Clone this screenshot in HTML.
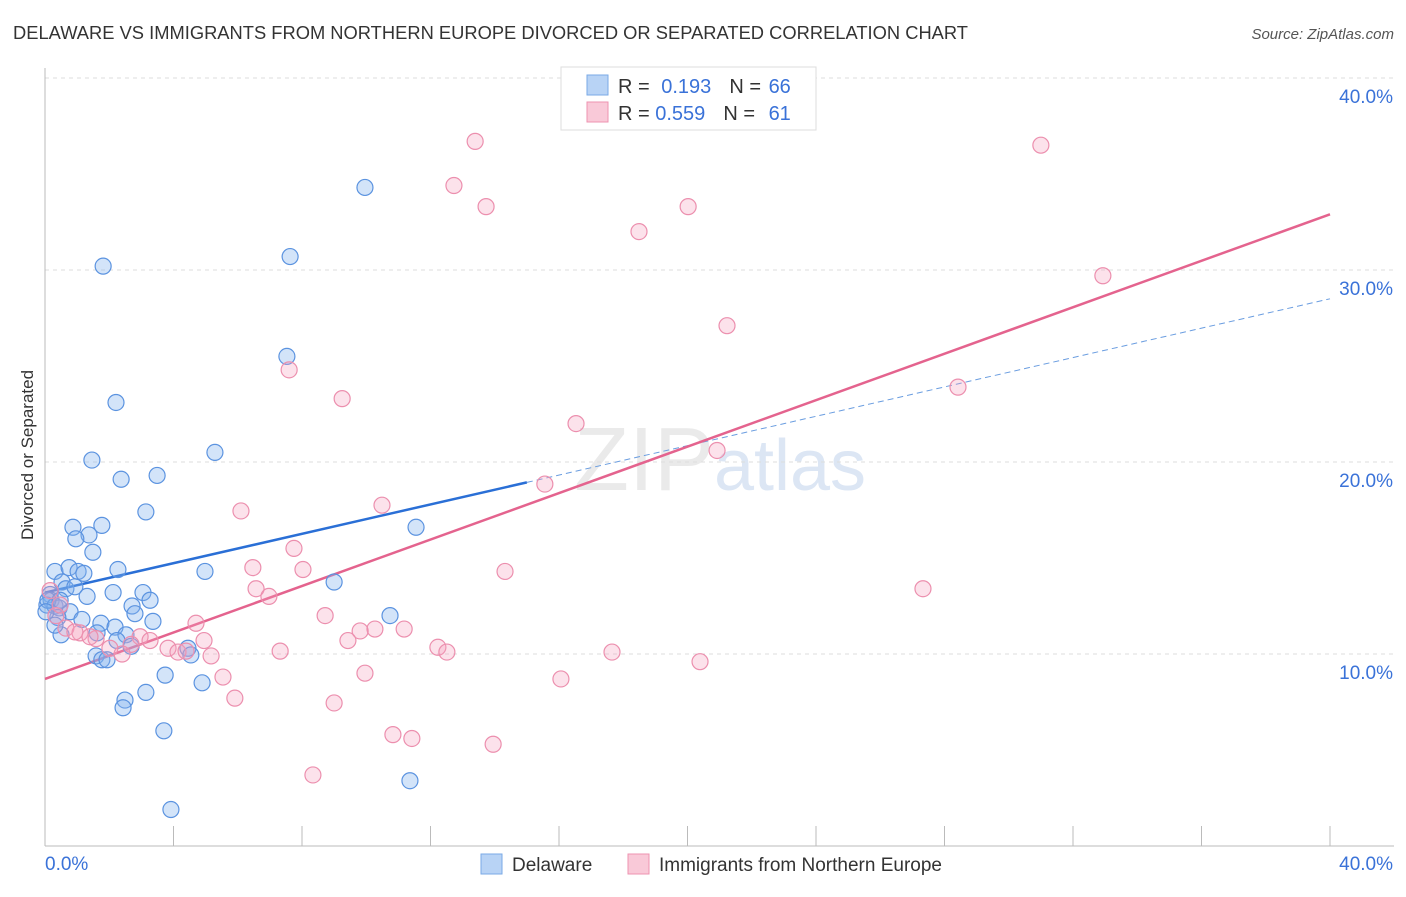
<!DOCTYPE html>
<html><head><meta charset="utf-8"><style>
body{margin:0;background:#fff;font-family:"Liberation Sans",sans-serif;}
svg text{font-family:"Liberation Sans",sans-serif;}
</style></head><body>
<svg id="chart" width="1406" height="892" viewBox="0 0 1406 892">
<text x="13" y="39" font-size="18" fill="#333" textLength="955" lengthAdjust="spacingAndGlyphs">DELAWARE VS IMMIGRANTS FROM NORTHERN EUROPE DIVORCED OR SEPARATED CORRELATION CHART</text>
<text x="1394" y="39" font-size="15" fill="#555" text-anchor="end" font-style="italic">Source: ZipAtlas.com</text>
<text x="720" y="490" font-size="90" fill="#ddd" text-anchor="middle" font-family="Liberation Serif" opacity="0.6">ZIP<tspan fill="#c5d6ee" font-family="Liberation Sans" font-size="72">atlas</tspan></text>
<text transform="translate(33,455) rotate(-90)" font-size="17" fill="#333" text-anchor="middle">Divorced or Separated</text>
<g id="grid"></g><g id="axes"></g><g id="lines"></g><g id="pts"></g>
<g>
<rect x="561" y="67" width="255" height="63" fill="#fff" stroke="#ddd"/>
<rect x="587" y="75" width="21" height="20" fill="#b8d3f5" stroke="#7aa9e6"/>
<rect x="587" y="102" width="21" height="20" fill="#f9c9d8" stroke="#ee93b0"/>
<text x="618" y="93" font-size="20" fill="#333">R = <tspan fill="#3a72d8" dx="6">0.193</tspan><tspan dx="18" fill="#333">N = </tspan><tspan fill="#3a72d8" dx="2">66</tspan></text>
<text x="618" y="120" font-size="20" fill="#333">R = <tspan fill="#3a72d8">0.559</tspan><tspan dx="18" fill="#333">N = </tspan><tspan fill="#3a72d8" dx="8">61</tspan></text>
</g>
<g>
<rect x="481" y="854" width="21" height="20" fill="#b8d3f5" stroke="#7aa9e6"/>
<text x="512" y="871" font-size="19" fill="#333">Delaware</text>
<rect x="628" y="854" width="21" height="20" fill="#f9c9d8" stroke="#ee93b0"/>
<text x="659" y="871" font-size="19" fill="#333">Immigrants from Northern Europe</text>
</g>
</svg>
<script>
const blueX=[9.96,1.81,7.63,7.53,2.21,5.29,1.46,2.37,3.49,3.14,0.87,1.77,1.37,0.96,1.49,11.55,0.31,0.75,1.03,1.21,2.27,4.98,0.53,0.65,0.93,9.0,0.16,1.31,2.12,3.05,3.27,0.19,0.06,0.31,0.44,0.78,2.71,2.8,10.74,1.15,1.74,2.18,3.36,0.4,0.5,1.62,2.52,2.24,2.68,4.45,4.54,1.59,1.77,1.93,3.74,4.89,2.49,3.14,2.43,3.7,3.92,11.36,0.09,0.31,0.03,0.47];
const blueY=[34.3,30.2,30.7,25.5,23.1,20.5,20.1,19.1,19.3,17.4,16.6,16.7,16.2,16.0,15.3,16.6,14.3,14.5,14.3,14.2,14.4,14.3,13.75,13.4,13.5,13.75,13.1,13.0,13.2,13.2,12.8,12.8,12.55,12.5,12.4,12.2,12.5,12.1,12.0,11.8,11.6,11.4,11.7,11.9,11.0,11.1,11.0,10.7,10.4,10.3,9.95,9.9,9.7,9.7,8.9,8.5,7.6,8.0,7.2,6.0,1.9,3.4,12.8,11.5,12.2,12.8];
const pinkX=[13.39,31.0,12.73,13.73,20.02,18.49,32.93,21.23,7.6,9.25,28.42,16.53,20.92,15.56,6.1,10.49,7.75,6.47,8.03,14.32,6.57,6.97,27.33,8.72,10.27,9.81,11.18,4.7,0.34,0.65,1.09,1.59,2.96,3.27,2.68,4.95,9.43,3.83,4.14,4.39,5.17,2.4,7.32,12.23,12.51,17.65,20.39,5.54,9.96,16.06,5.91,9.0,10.83,11.42,13.95,8.34,0.16,0.47,0.93,1.4,2.02];
const pinkY=[36.7,36.5,34.4,33.3,33.3,32.0,29.7,27.1,24.8,23.3,23.9,22.0,20.6,18.85,17.45,17.75,15.5,14.5,14.4,14.3,13.4,13.0,13.4,12.0,11.3,11.2,11.3,11.6,12.0,11.35,11.1,10.8,10.9,10.7,10.5,10.7,10.7,10.3,10.1,10.15,9.9,10.0,10.15,10.35,10.1,10.1,9.6,8.8,9.0,8.7,7.7,7.45,5.8,5.6,5.3,3.7,13.3,12.55,11.15,10.9,10.3];
const blueTrend=[13.2,28.5];
const pinkTrend=[8.7,32.9];
const yTicks=[10,20,30,40];
const yTickLabels=["10.0%","20.0%","30.0%","40.0%"];
const xTicks=[0,4,8,12,16,20,24,28,32,36,40];
const sx=v=>45+v*32.125, sy=v=>846-v*19.2;
const NS="http://www.w3.org/2000/svg";
function mk(tag,at,par){const e=document.createElementNS(NS,tag);for(const k in at)e.setAttribute(k,at[k]);document.getElementById(par).appendChild(e);return e;}
yTicks.forEach((t,i)=>{
 const l=mk('line',{x1:45,x2:1394,y1:sy(t),y2:sy(t),stroke:'#ddd','stroke-dasharray':'4 4'},'grid');
 
 
 const tx=mk('text',{x:1393,y:sy(t)+25,'font-size':19,fill:'#3a72d8','text-anchor':'end'},'axes');
 tx.textContent=yTickLabels[i];
 
 
});
const ya=mk('line',{x1:45,x2:45,y1:68,y2:846,stroke:'#bbb'},'axes');


const xa=mk('line',{x1:45,x2:1394,y1:846,y2:846,stroke:'#bbb'},'axes');


xTicks.forEach(t=>{const l=mk('line',{x1:sx(t),x2:sx(t),y1:826,y2:846,stroke:'#bbb'},'axes');
 
 });
const x0=mk('text',{x:45,y:870,'font-size':19,fill:'#3a72d8'},'axes');x0.textContent='0.0%';


const x1=mk('text',{x:1393,y:870,'font-size':19,fill:'#3a72d8','text-anchor':'end'},'axes');x1.textContent='40.0%';


blueX.forEach((v,i)=>{const c=mk('circle',{cx:sx(v),cy:sy(blueY[i]),r:8,fill:'rgba(130,178,238,0.35)',stroke:'#5b93e0','stroke-width':1.2},'pts');
 
 });
pinkX.forEach((v,i)=>{const c=mk('circle',{cx:sx(v),cy:sy(pinkY[i]),r:8,fill:'rgba(245,160,190,0.3)',stroke:'#ec8fae','stroke-width':1.2},'pts');
 
 });
const bAt=x=>blueTrend[0]+(blueTrend[1]-blueTrend[0])*x/40;
const bs=mk('line',{x1:sx(0),y1:sy(bAt(0)),x2:sx(15),y2:sy(bAt(15)),stroke:'#2a6fd6','stroke-width':2.5},'lines');


const bd=mk('line',{x1:sx(15),y1:sy(bAt(15)),x2:sx(40),y2:sy(bAt(40)),stroke:'#6a9de0','stroke-width':1,'stroke-dasharray':'6 4'},'lines');


const pl=mk('line',{x1:sx(0),y1:sy(pinkTrend[0]),x2:sx(40),y2:sy(pinkTrend[1]),stroke:'#e4638e','stroke-width':2.5},'lines');


</script>
</body></html>
